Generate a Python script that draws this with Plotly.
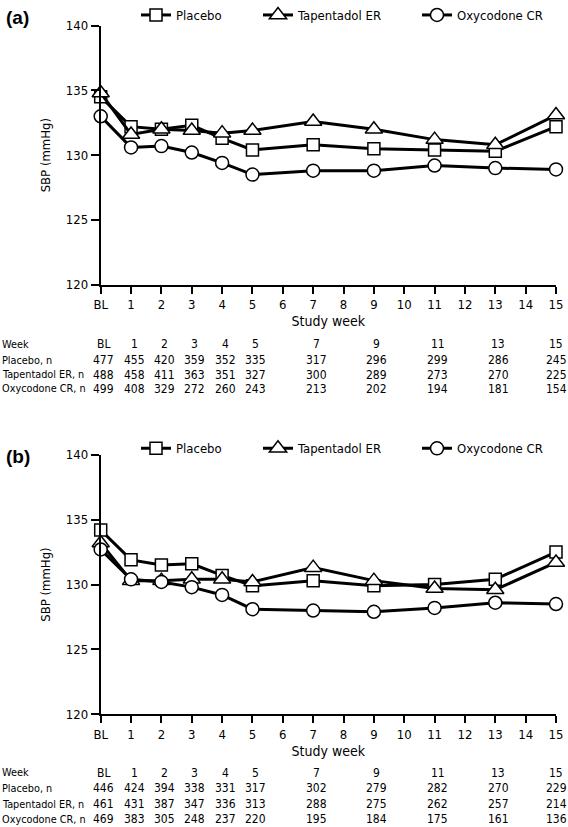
import plotly.graph_objects as go

W, H = 568, 827

# ---------------- data ----------------
weeks = [0, 1, 2, 3, 4, 5, 7, 9, 11, 13, 15]
tick_vals = list(range(16))
tick_text = ["BL"] + [str(i) for i in range(1, 16)]
y_tick_vals = [120, 125, 130, 135, 140]
series_names = ["Placebo", "Tapentadol ER", "Oxycodone CR"]
table_row_labels = ["Week", "Placebo, n", "Tapentadol ER, n", "Oxycodone CR, n"]
week_labels = ["BL", "1", "2", "3", "4", "5", "7", "9", "11", "13", "15"]

# Panel (a)
placebo_a = [134.5, 132.2, 132.0, 132.3, 131.3, 130.4, 130.8, 130.5, 130.4, 130.3, 132.2]
tapentadol_a = [134.8, 131.6, 132.0, 131.9, 131.7, 131.9, 132.6, 132.0, 131.2, 130.8, 133.1]
oxycodone_a = [133.0, 130.6, 130.7, 130.2, 129.4, 128.5, 128.8, 128.8, 129.2, 129.0, 128.9]
n_placebo_a = [477, 455, 420, 359, 352, 335, 317, 296, 299, 286, 245]
n_tapentadol_a = [488, 458, 411, 363, 351, 327, 300, 289, 273, 270, 225]
n_oxycodone_a = [499, 408, 329, 272, 260, 243, 213, 202, 194, 181, 154]

# Panel (b)
placebo_b = [134.2, 131.9, 131.5, 131.6, 130.7, 129.9, 130.3, 129.9, 130.0, 130.4, 132.5]
tapentadol_b = [133.2, 130.3, 130.3, 130.4, 130.4, 130.2, 131.3, 130.3, 129.7, 129.6, 131.7]
oxycodone_b = [132.7, 130.4, 130.2, 129.8, 129.2, 128.1, 128.0, 127.9, 128.2, 128.6, 128.5]
n_placebo_b = [446, 424, 394, 338, 331, 317, 302, 279, 282, 270, 229]
n_tapentadol_b = [461, 431, 387, 347, 336, 313, 288, 275, 262, 257, 214]
n_oxycodone_b = [469, 383, 305, 248, 237, 220, 195, 184, 175, 161, 136]

# ---------------- styling ----------------
FONT = "DejaVu Sans Condensed, Roboto, sans-serif"
symbols = ["square", "triangle-up", "circle"]
sizes = [12, 15, 13]


def px_x(p):
    return p / W


def px_y(p):
    return 1 - p / H


fig = go.Figure()

panels = [
    dict(xa="x", ya="y", vals=[placebo_a, tapentadol_a, oxycodone_a],
         ns=[n_placebo_a, n_tapentadol_a, n_oxycodone_a],
         legends=["legend", "legend2", "legend3"], leg_y=12,
         top=22.7, bottom=282.7, label="(a)", label_y=15,
         rows=[342.7, 358.3, 373.3, 387.3]),
    dict(xa="x2", ya="y2", vals=[placebo_b, tapentadol_b, oxycodone_b],
         ns=[n_placebo_b, n_tapentadol_b, n_oxycodone_b],
         legends=["legend4", "legend5", "legend6"], leg_y=447,
         top=453.3, bottom=714, label="(b)", label_y=455,
         rows=[772.7, 788.3, 804, 819.3]),
]

legend_x = [136, 258, 417]
layout = {}
annotations = []

for pi, p in enumerate(panels):
    for si, name in enumerate(series_names):
        fig.add_trace(go.Scatter(
            x=weeks, y=p["vals"][si], name=name, mode="lines+markers",
            xaxis=p["xa"], yaxis=p["ya"], cliponaxis=False,
            legend=p["legends"][si],
            line=dict(color="black", width=3),
            marker=dict(symbol=symbols[si], size=sizes[si], color="white",
                        line=dict(color="black", width=1.5)),
        ))
        layout[p["legends"][si]] = dict(
            x=px_x(legend_x[si]), y=px_y(p["leg_y"]), xanchor="left", yanchor="middle",
            bgcolor="rgba(0,0,0,0)", borderwidth=0,
            font=dict(family=FONT, size=13, color="black"),
        )

    suffix = "" if pi == 0 else "2"
    dom_y = [px_y(p["bottom"]), px_y(p["top"])]
    layout["xaxis" + suffix] = dict(
        domain=[px_x(100.7), px_x(556)], range=[0, 15], anchor="y" + suffix,
        tickmode="array", tickvals=tick_vals, ticktext=tick_text,
        ticks="outside", ticklen=7, tickwidth=2, tickcolor="black",
        showline=True, linewidth=2, linecolor="black", showgrid=False, zeroline=False,
        tickfont=dict(family=FONT, size=13, color="black"), automargin=False,
        title=dict(text="Study week", standoff=5,
                   font=dict(family=FONT, size=14, color="black")),
        fixedrange=True,
    )
    layout["yaxis" + suffix] = dict(
        domain=dom_y, range=[120, 140], anchor="x" + suffix,
        tickmode="array", tickvals=y_tick_vals,
        ticks="outside", ticklen=8, tickwidth=2, tickcolor="black",
        showline=True, linewidth=2, linecolor="black", showgrid=False, zeroline=False,
        tickfont=dict(family=FONT, size=13, color="black"), automargin=False,
        title=dict(text="SBP (mmHg)", standoff=12,
                   font=dict(family=FONT, size=13, color="black")),
        fixedrange=True,
    )

    annotations.append(dict(
        text="<b>" + p["label"] + "</b>", xref="paper", yref="paper",
        x=px_x(4), y=px_y(p["label_y"]), xanchor="left", yanchor="middle",
        showarrow=False, font=dict(family="Liberation Sans, Arial, sans-serif",
                                   size=19, color="black"),
    ))

    table_rows = [week_labels] + [[str(v) for v in n] for n in p["ns"]]
    for ri, row_label in enumerate(table_row_labels):
        ry = px_y(p["rows"][ri])
        annotations.append(dict(
            text=row_label, xref="paper", yref="paper", x=0, y=ry,
            xanchor="left", yanchor="middle", showarrow=False,
            font=dict(family=FONT, size=10.8, color="black"),
        ))
        for wi, wk in enumerate(weeks):
            last = wi == len(weeks) - 1
            annotations.append(dict(
                text=table_rows[ri][wi], xref=p["xa"], yref="paper", x=wk, y=ry,
                xanchor="center", yanchor="middle", showarrow=False,
                xshift=0 if last else 3,
                font=dict(family=FONT, size=12, color="black"),
            ))

fig.update_layout(
    width=W, height=H, margin=dict(l=0, r=0, t=0, b=0),
    paper_bgcolor="white", plot_bgcolor="white",
    showlegend=True, annotations=annotations,
    **layout,
)

fig.write_html(
    "out.html",
    config={"displayModeBar": False, "staticPlot": True},
    post_script="document.body.style.margin='0';document.body.style.overflow='hidden';",
)
